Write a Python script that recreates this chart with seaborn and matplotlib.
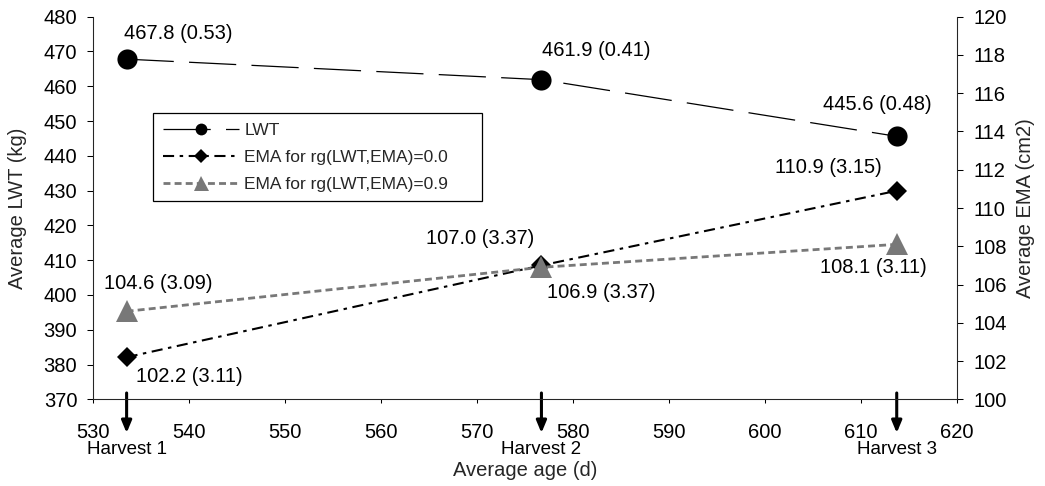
import matplotlib
matplotlib.use("Agg")
import matplotlib.pyplot as plt
import seaborn as sns
import pandas as pd

# chart data
ages = [533.5, 576.7, 613.7]
harvest_labels = ["Harvest 1", "Harvest 2", "Harvest 3"]
lwt = [467.8, 461.9, 445.6]
lwt_se = ["0.53", "0.41", "0.48"]
ema_rg00 = [102.2, 107.0, 110.9]
ema_rg00_se = ["3.11", "3.37", "3.15"]
ema_rg09 = [104.6, 106.9, 108.1]
ema_rg09_se = ["3.09", "3.37", "3.11"]
x_ticks = list(range(530, 621, 10))
lwt_ticks = list(range(370, 481, 10))
ema_ticks = list(range(100, 121, 2))

sns.set_theme(style="ticks")
plt.rcParams["font.family"] = ["Liberation Sans", "DejaVu Sans"]
plt.rcParams["lines.scale_dashes"] = False
plt.rcParams["axes.linewidth"] = 0.75

df = pd.DataFrame({"age": ages, "lwt": lwt, "rg00": ema_rg00, "rg09": ema_rg09})

fig, ax = plt.subplots(figsize=(10.45, 4.86), dpi=100)
fig.subplots_adjust(left=0.089, right=0.916, top=0.9656, bottom=0.1784)
ax2 = ax.twinx()

sns.lineplot(data=df, x="age", y="lwt", ax=ax, color="black", lw=0.9,
             linestyle=(0, (34, 11)), marker="o", markersize=14.5,
             markeredgewidth=0)
sns.lineplot(data=df, x="age", y="rg00", ax=ax2, color="black", lw=1.5,
             linestyle=(0, (8, 4, 2.5, 4)), marker="D", markersize=10.5,
             markeredgewidth=0)
sns.lineplot(data=df, x="age", y="rg09", ax=ax2, color="#787878", lw=2.0,
             linestyle=(0, (5, 3)), marker="^", markersize=15.5,
             markeredgewidth=0)

ax.set_xlim(530, 620)
ax.set_ylim(370, 480)
ax2.set_ylim(100, 120)
ax.set_xticks(x_ticks)
ax.set_yticks(lwt_ticks)
ax2.set_yticks(ema_ticks)

for a in (ax, ax2):
    a.spines["top"].set_visible(False)
    a.tick_params(colors="black", labelsize=14.5, width=0.75)
ax.tick_params(axis="y", length=4.3, pad=7)
ax.tick_params(axis="x", length=3, pad=14)
ax2.tick_params(axis="y", length=4.3, pad=7.5)

ax.set_xlabel("Average age (d)", fontsize=14.5)
ax.set_ylabel("Average LWT (kg)", fontsize=14.5)
ax2.set_ylabel("Average EMA (cm2)", fontsize=14.5)
ax.xaxis.label.set_va("center")
ax.xaxis.set_label_coords(0.5, -0.185)
ax.yaxis.label.set_va("center")
ax.yaxis.set_label_coords(-0.087, 0.5)
ax2.yaxis.label.set_va("center")
ax2.yaxis.set_label_coords(1.079, 0.5)

# value labels, offsets in pixels
lwt_offsets = [(52, 26), (55, 29), (-19, 32)]
rg00_offsets = [(63, -19), (-61, 27), (-68, 23)]
rg09_offsets = [(32, 28), (60, -25), (-23, -23)]

for a, vals, ses, offs in [(ax, lwt, lwt_se, lwt_offsets),
                           (ax2, ema_rg00, ema_rg00_se, rg00_offsets),
                           (ax2, ema_rg09, ema_rg09_se, rg09_offsets)]:
    for x, v, s, (dx, dy) in zip(ages, vals, ses, offs):
        a.annotate(f"{v:.1f} ({s})", xy=(x, v), xytext=(dx, dy),
                   textcoords="offset pixels", ha="center", va="center",
                   fontsize=14.5, color="black", zorder=5)

# harvest arrows under the x axis
xt = ax.get_xaxis_transform()
for x, lab in zip(ages, harvest_labels):
    ax.annotate("", xy=(x, -0.088), xytext=(x, 0.0165),
                xycoords=("data", "axes fraction"),
                arrowprops=dict(arrowstyle="-|>,head_length=0.6,head_width=0.25",
                                mutation_scale=12, lw=2.2, color="black",
                                shrinkA=0, shrinkB=0),
                annotation_clip=False)
    ax.text(x, -0.1325, lab, transform=xt, ha="center", va="center",
            fontsize=13.5, color="black")

handles = [ax.lines[0], ax2.lines[0], ax2.lines[1]]
labels = ["LWT", "EMA for rg(LWT,EMA)=0.0", "EMA for rg(LWT,EMA)=0.9"]
leg = ax2.legend(handles, labels, loc="upper left",
                 bbox_to_anchor=(0.0694, 0.748 - 0.2248, 0.381, 0.2248),
                 mode="expand", borderaxespad=0, frameon=True, fancybox=False,
                 edgecolor="black", framealpha=1, fontsize=12.5,
                 handlelength=4.4, handletextpad=0.3, borderpad=0.55,
                 labelspacing=0.68)
leg.get_frame().set_linewidth(0.9)
for h, ms in zip(leg.legend_handles, [8.5, 6.7, 10.8]):
    h.set_markersize(ms)

fig.savefig("out.png", dpi=100)
